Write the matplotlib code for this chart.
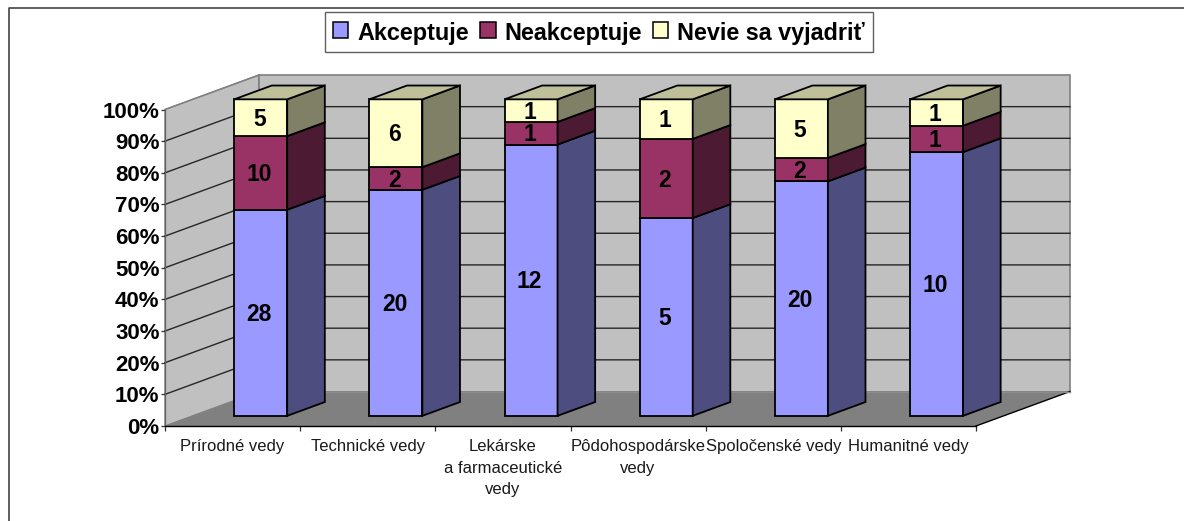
import matplotlib
matplotlib.use("Agg")
import matplotlib.pyplot as plt
from matplotlib.patches import Polygon, Patch
from matplotlib.lines import Line2D
from matplotlib.ticker import PercentFormatter

categories = ["Prírodné vedy", "Technické vedy", "Lekárske\na farmaceutické\nvedy",
              "Pôdohospodárske\nvedy", "Spoločenské vedy", "Humanitné vedy"]
series_names = ["Akceptuje", "Neakceptuje", "Nevie sa vyjadriť"]
akceptuje = [28, 20, 12, 5, 20, 10]
neakceptuje = [10, 2, 1, 2, 2, 1]
nevie = [5, 6, 1, 1, 5, 1]
y_ticks = list(range(0, 101, 10))

front_colors = ["#9999FF", "#993366", "#FFFFCC"]
side_colors = ["#4D4D80", "#4D1A33", "#808066"]
top_colors = ["#BFBFE6", "#BF8099", "#BFBF99"]

W, H = 1184, 521
plt.rcParams["font.family"] = ["Liberation Sans", "DejaVu Sans"]
fig = plt.figure(figsize=(W / 100, H / 100), dpi=100)
L, R, T, B = 165, 976, 109.5, 426
ax = fig.add_axes([L / W, 1 - B / H, (R - L) / W, (B - T) / H])
ax.set_xlim(0, len(categories))
ax.set_ylim(0, 100)
ax.patch.set_visible(False)

# oblique depth expressed in axis units
DX = 94 / ((R - L) / len(categories))
DY = 34.5 / ((B - T) / 100)
BAR_W = 0.392
D0, D1 = 0.295, 0.695
BAR_SHIFT = 0.003


def P(x, y, d):
    return (x + d * DX, y + d * DY)


def poly(pts, fc, ec, lw, z):
    ax.add_patch(Polygon(pts, closed=True, facecolor=fc, edgecolor=ec, linewidth=lw,
                         zorder=z, clip_on=False, joinstyle="miter"))


n = len(categories)
poly([P(0, 0, 0), P(0, 100, 0), P(0, 100, 1), P(0, 0, 1)], "#C0C0C0", "#808080", 1.0, 1)
poly([P(0, 0, 1), P(0, 100, 1), P(n, 100, 1), P(n, 0, 1)], "#C0C0C0", "#808080", 1.2, 1)
poly([P(0, 0, 0), P(n, 0, 0), P(n, 0, 1), P(0, 0, 1)], "#808080", "none", 0, 1.5)
ax.plot(*zip(P(n, 0, 0), P(n, 0, 1)), color="black", lw=1, zorder=1.6, clip_on=False)
ax.plot(*zip(P(n, 0, 1), P(0, 0, 1)), color="#8C8C8C", lw=1, zorder=1.6, clip_on=False)

for t in y_ticks[1:-1]:
    ax.plot(*zip(P(0, t, 0), P(0, t, 1), P(n, t, 1)), color="#262626", lw=1.0,
            zorder=2, clip_on=False, solid_joinstyle="miter")
ax.plot(*zip(P(0, 100, 0), P(0, 100, 1)), color="#808080", lw=1, zorder=2, clip_on=False)

series = [akceptuje, neakceptuje, nevie]
z = 3.0
for i in range(n):
    total = sum(s[i] for s in series)
    x0 = i + 0.5 - BAR_W / 2 + BAR_SHIFT
    x1 = x0 + BAR_W
    base = 0.0
    for k, s in enumerate(series):
        top = base + 100 * s[i] / total
        poly([P(x0, base, D0), P(x1, base, D0), P(x1, top, D0), P(x0, top, D0)],
             front_colors[k], "black", 1.3, z)
        poly([P(x1, base, D0), P(x1, base, D1), P(x1, top, D1), P(x1, top, D0)],
             side_colors[k], "black", 1.3, z)
        if k == len(series) - 1:
            poly([P(x0, top, D0), P(x1, top, D0), P(x1, top, D1), P(x0, top, D1)],
                 top_colors[k], "black", 1.3, z)
        ax.annotate(str(s[i]), xy=P((x0 + x1) / 2, (base + top) / 2, D0), xytext=(-1, -1.2),
                    textcoords="offset points", ha="center", va="center", fontsize=16.5,
                    fontweight="bold", color="black", zorder=50, annotation_clip=False)
        base = top
        z += 0.1

ax.set_yticks(y_ticks)
ax.yaxis.set_major_formatter(PercentFormatter(100, decimals=0))
ax.tick_params(axis="y", length=3, width=0.9, pad=1, labelsize=16, color="#303030")
for lab in ax.get_yticklabels():
    lab.set_fontweight("bold")
ax.set_xticks(range(n + 1))
ax.set_xticks([i + 0.5 for i in range(n)], minor=True)
ax.set_xticklabels([""] * (n + 1))
ax.set_xticklabels(categories, minor=True, linespacing=1.55, ma="center", color="#1a1a1a")
ax.tick_params(axis="x", which="major", length=3.5, width=0.9, color="#303030")
ax.tick_params(axis="x", which="minor", length=0, pad=9.5, labelsize=12)
for sp in ("top", "right"):
    ax.spines[sp].set_visible(False)
ax.spines["left"].set_color("#606060")
ax.spines["left"].set_linewidth(0.9)
ax.spines["bottom"].set_color("black")
ax.spines["bottom"].set_linewidth(1.0)
ax.spines["bottom"].set_zorder(2.5)

handles = [Patch(facecolor=c, edgecolor="black", linewidth=1.1) for c in front_colors]
leg = ax.legend(handles, series_names, loc="center", ncol=3, bbox_to_anchor=(599 / W, 1 - 32 / H),
                bbox_transform=fig.transFigure, frameon=True, fancybox=False, framealpha=1,
                edgecolor="#606060", prop={"weight": "bold", "size": 16.8}, handlelength=0.66,
                handleheight=0.66, handletextpad=0.38, columnspacing=0.48, borderpad=0.36,
                borderaxespad=0)
leg.get_frame().set_linewidth(1.0)
leg.set_zorder(60)
for t in leg.get_texts():
    t.set_y(-1.5)

fig.add_artist(Line2D([8.5 / W, 8.5 / W, 1], [0, 1 - 8 / H, 1 - 8 / H], color="#333333", lw=1.1))
fig.savefig("out.png", dpi=100)
